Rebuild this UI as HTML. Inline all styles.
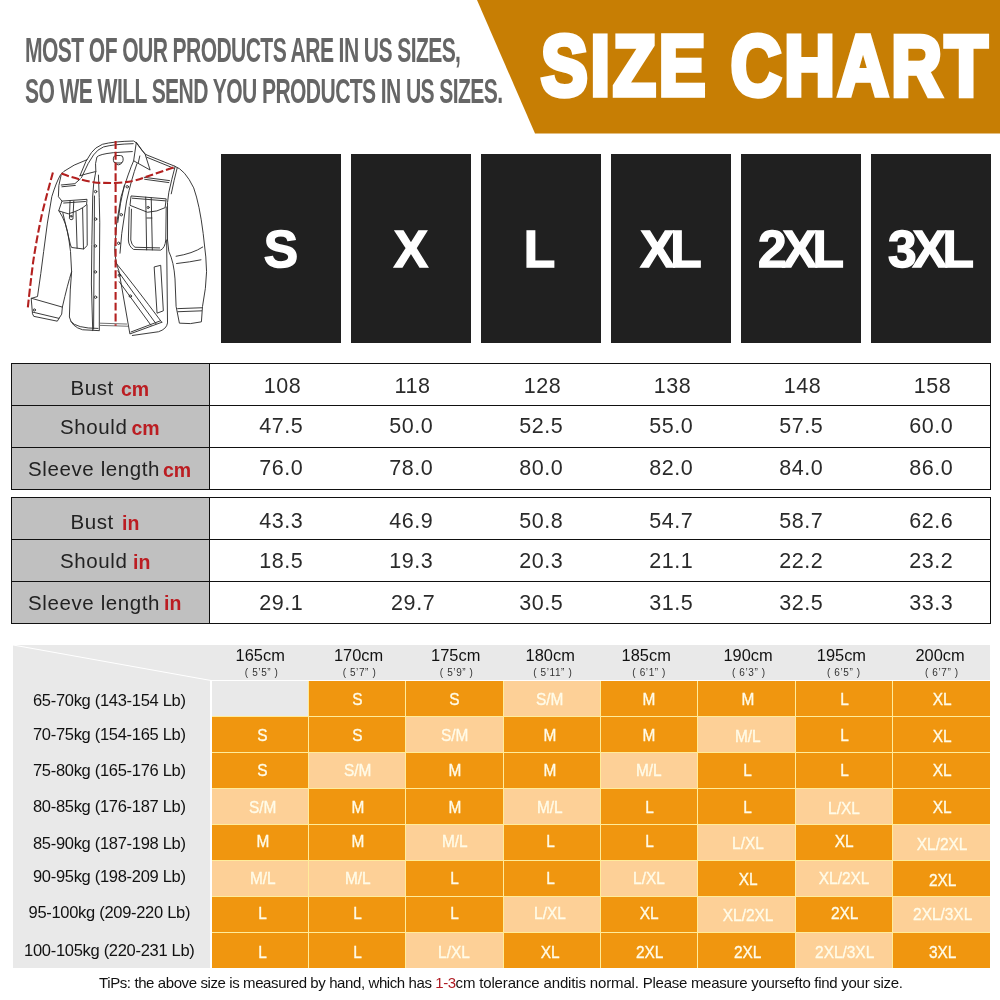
<!DOCTYPE html>
<html><head><meta charset="utf-8"><title>Size Chart</title>
<style>
*{margin:0;padding:0;box-sizing:border-box}
html,body{width:1000px;height:1000px;background:#fff;overflow:hidden}
body{position:relative;font-family:"Liberation Sans",sans-serif;color:#222}
.abs{position:absolute}
#banner{left:0;top:0}
#title{left:541px;top:24px;white-space:nowrap;color:#fff;font-weight:bold;font-size:84.5px;line-height:1;transform-origin:0 0;transform:scaleX(.829);-webkit-text-stroke:5.5px #fff;paint-order:stroke fill;letter-spacing:3.5px}
.note{left:24.5px;white-space:nowrap;color:#666;font-weight:bold;font-size:35px;line-height:1;transform-origin:0 0;letter-spacing:-1px;transform:scaleX(.603)}
.box{top:154px;width:120px;height:189px;background:#202020;color:#fff;font-weight:bold;font-size:51.5px;text-align:center;line-height:189px;white-space:nowrap;-webkit-text-stroke:1.4px #fff}
.box span{display:inline-block;position:relative;top:1px}
.box .ls{letter-spacing:-4.3px;margin-left:-4.3px}
.tbl{left:11px;width:980px;height:127px;border:1px solid #111}
.hl{position:absolute;left:0;width:978px;height:1px;background:#111}
.lab{position:absolute;left:0;top:0;width:198px;height:125px;background:#c0c0c0;border-right:1px solid #111}
.t{position:absolute;white-space:nowrap;font-size:20.5px;line-height:1;color:#222;letter-spacing:.6px}
.u{position:absolute;white-space:nowrap;font-size:19.5px;line-height:1;color:#bb1d22;font-weight:bold}
.n{position:absolute;white-space:nowrap;font-size:21.5px;line-height:1;color:#2a2a2a;transform:translateX(-50%);letter-spacing:.6px}
#chart{left:13px;top:645px;width:977px;height:323px;background:#e9e9e9;overflow:hidden}
.c{position:absolute;color:#fffbe8;font-size:16.5px;line-height:35px;text-align:center;white-space:nowrap;height:35px}
.c span{display:inline-block;transform:scaleX(.935);position:relative;top:1.2px;-webkit-text-stroke:.35px #fffbe8}
.d{background:#f0960f}
.l{background:#fdd097}
.h1{position:absolute;font-size:16.4px;line-height:1;color:#111;white-space:nowrap;transform:translateX(-50%)}
.h2{position:absolute;font-size:10px;line-height:1;color:#333;letter-spacing:.6px;white-space:nowrap;transform:translateX(-50%)}
.w{position:absolute;font-size:16.5px;line-height:1;color:#111;white-space:nowrap;transform:translateX(-50%);left:96.3px;letter-spacing:-.3px}
#tips{left:99px;top:975px;font-size:15px;line-height:1;color:#111;white-space:nowrap;letter-spacing:-.335px}
#tips b{font-weight:normal;color:#b01c24;letter-spacing:-.5px}
</style></head><body>
<svg id="banner" class="abs" width="1000" height="140" viewBox="0 0 1000 140"><polygon points="477,0 1000,0 1000,133.5 535,133.5" fill="#c77e04"/></svg>
<div id="title" class="abs">SIZE CHART</div>
<div class="abs note" id="n1" style="top:31.5px">MOST OF OUR PRODUCTS ARE IN US SIZES,</div>
<div class="abs note" id="n2" style="top:73px">SO WE WILL SEND YOU PRODUCTS IN US SIZES.</div>
<svg class="abs" style="left:10px;top:130px" width="220" height="220" viewBox="0 0 1000 1000" fill="none" stroke="#2b2b2b" stroke-width="4.2" stroke-linecap="round" stroke-linejoin="round">
<!-- collar -->
<path d="M318 208 L345 143 L370 103 Q385 80 420 65 Q470 52 562 50 L574 58"/>
<path d="M325 216 L355 153 L380 113 Q398 88 425 77 Q470 65 560 62"/>
<path d="M390 188 Q385 150 395 123 Q405 110 470 103 L556 98"/>
<path d="M318 208 L345 200 L385 190"/>
<path d="M574 58 L562 140 L637 182 L615 113 Z"/>
<path d="M574 58 L600 93 L618 112"/>
<path d="M583 150 L590 118"/>
<!-- hanger loop -->
<rect x="470" y="116" width="44" height="34" rx="12"/>
<path d="M478 150 Q492 168 508 150"/>
<!-- left shoulder + sleeve -->
<path d="M350 135 Q285 158 245 188 L230 203 Q210 238 190 303 L170 423 L153 552 L140 652 L125 757 L98 765"/>
<path d="M98 765 L238 805 L235 837 L215 869 L108 847 L103 837 Z"/>
<path d="M104 828 L222 856"/>
<circle cx="111" cy="818" r="5"/>
<path d="M232 206 Q218 250 220 303 L236 323"/>
<path d="M223 368 Q258 420 268 500 L275 552 L280 644 Q262 700 238 805"/>
<path d="M280 644 L274 727 L270 850 Q280 895 330 908 L405 912"/>
<path d="M276 870 Q300 902 400 902"/>
<!-- left yoke -->
<path d="M233 250 L295 244 L320 222"/>
<path d="M236 258 L297 252"/>
<!-- left pocket -->
<path d="M238 323 L350 315 L348 340 Q318 366 265 381 L223 368 Z"/>
<path d="M244 332 L343 325"/>
<path d="M273 323 L270 403 Q277 412 286 405 L290 323"/>
<circle cx="278" cy="392" r="4"/>
<path d="M240 376 L275 523 L280 534 L335 541 L351 525 L350 340"/>
<path d="M300 372 L305 537 M330 356 L334 540"/>
<!-- left placket -->
<path d="M390 188 Q378 240 376 300 L372 520 L370 700 L376 912"/>
<path d="M402 205 Q406 300 408 420 L406 700 L406 910"/>
<path d="M384 300 L380 905"/>
<circle cx="389" cy="280" r="5.5"/><circle cx="389" cy="405" r="5.5"/><circle cx="388" cy="527" r="5.5"/><circle cx="388" cy="645" r="5.5"/><circle cx="389" cy="760" r="5.5"/>
<!-- inner hem -->
<path d="M406 878 L530 882 M406 888 L535 892" stroke="#666"/>
<!-- right front edge -->
<path d="M562 140 Q540 188 505 303 L485 423 L476 540 Q478 600 495 640 L545 927 L690 874"/>
<path d="M577 153 Q552 223 530 323 L508 470 L500 560"/>
<path d="M520 250 Q500 330 490 420" />
<path d="M478 600 Q560 700 690 874"/>
<path d="M490 640 Q560 740 664 881"/>
<path d="M497 690 L641 888"/>
<path d="M550 918 L682 868"/>
<circle cx="533" cy="258" r="5.5"/><circle cx="506" cy="385" r="5.5"/><circle cx="494" cy="515" r="5.5"/><circle cx="497" cy="660" r="5.5"/><circle cx="547" cy="755" r="5.5"/>
<!-- right shoulder -->
<path d="M618 112 L750 165"/>
<path d="M622 124 L745 174"/>
<!-- right armhole + body side -->
<path d="M750 168 Q735 223 722 283 L716 330 L716 500"/>
<path d="M760 172 Q745 230 733 290"/>
<path d="M712 500 L716 877 Q712 905 675 917 L556 934"/>
<!-- right sleeve -->
<path d="M750 165 Q795 180 835 263 Q862 340 878 470 L890 577 Q898 640 888 720 L875 802 L870 872 Q820 885 770 878 L755 802 L750 677 Q745 600 722 552 L716 500"/>
<path d="M762 812 L872 808 M763 826 L871 822"/>
<path d="M755 574 Q830 562 876 532 M757 607 Q820 600 868 590"/>
<!-- right yoke -->
<path d="M610 215 L725 230 M612 224 L722 239"/>
<!-- right pocket -->
<path d="M552 300 L710 313 L705 353 Q670 372 625 374 L547 343 Z"/>
<path d="M556 310 L706 322"/>
<path d="M542 350 L538 500 Q540 530 562 543 L685 546 Q705 535 708 500 L710 350"/>
<path d="M552 360 L549 500 Q552 524 568 533 L680 536"/>
<path d="M617 305 L621 545 M642 308 L647 545"/>
<circle cx="628" cy="352" r="5"/>
<path d="M622 400 L645 400"/>
<!-- welt pocket -->
<path d="M657 622 L685 615 L697 822 L670 832 Z"/>
<!-- red dashed -->
<g stroke="#b3201f" stroke-width="9.5" stroke-linecap="butt" stroke-dasharray="36 13">
<path d="M480 50 L480 890"/>
<path d="M233 198 Q315 228 395 240 L480 241 Q560 236 605 218 L750 168"/>
<path d="M195 193 Q170 283 145 383 Q120 500 105 602 Q90 720 80 817"/>
</g>
</svg>

<div class="abs box" style="left:221px"><span>S</span></div>
<div class="abs box" style="left:351px"><span>X</span></div>
<div class="abs box" style="left:481px"><span style="left:-1.5px">L</span></div>
<div class="abs box" style="left:611px"><span class="ls">XL</span></div>
<div class="abs box" style="left:741px"><span class="ls">2XL</span></div>
<div class="abs box" style="left:871px"><span class="ls">3XL</span></div>
<div class="abs tbl" style="top:363px">
<div class="lab"></div>
<div class="hl" style="top:41px"></div><div class="hl" style="top:83px"></div>
<div class="t" style="left:58.5px;top:14.0px">Bust</div>
<div class="u" style="left:109.0px;top:16.0px">cm</div>
<div class="n" style="left:270.5px;top:11.8px">108</div>
<div class="n" style="left:400.5px;top:11.8px">118</div>
<div class="n" style="left:530.5px;top:11.8px">128</div>
<div class="n" style="left:660.5px;top:11.8px">138</div>
<div class="n" style="left:790.5px;top:11.8px">148</div>
<div class="n" style="left:920.5px;top:11.8px">158</div>
<div class="t" style="left:48.1px;top:53.1px">Should</div>
<div class="u" style="left:119.4px;top:55.1px">cm</div>
<div class="n" style="left:269.3px;top:52.3px">47.5</div>
<div class="n" style="left:399.3px;top:52.3px">50.0</div>
<div class="n" style="left:529.3px;top:52.3px">52.5</div>
<div class="n" style="left:659.3px;top:52.3px">55.0</div>
<div class="n" style="left:789.3px;top:52.3px">57.5</div>
<div class="n" style="left:919.3px;top:52.3px">60.0</div>
<div class="t" style="left:16.1px;top:94.6px">Sleeve length</div>
<div class="u" style="left:151.0px;top:96.6px">cm</div>
<div class="n" style="left:269.3px;top:94.3px">76.0</div>
<div class="n" style="left:399.3px;top:94.3px">78.0</div>
<div class="n" style="left:529.3px;top:94.3px">80.0</div>
<div class="n" style="left:659.3px;top:94.3px">82.0</div>
<div class="n" style="left:789.3px;top:94.3px">84.0</div>
<div class="n" style="left:919.3px;top:94.3px">86.0</div>
</div>
<div class="abs tbl" style="top:497px">
<div class="lab"></div>
<div class="hl" style="top:41px"></div><div class="hl" style="top:83px"></div>
<div class="t" style="left:58.5px;top:14.0px">Bust</div>
<div class="u" style="left:110.0px;top:15.5px">in</div>
<div class="n" style="left:269.3px;top:12.5px">43.3</div>
<div class="n" style="left:399.3px;top:12.5px">46.9</div>
<div class="n" style="left:529.3px;top:12.5px">50.8</div>
<div class="n" style="left:659.3px;top:12.5px">54.7</div>
<div class="n" style="left:789.3px;top:12.5px">58.7</div>
<div class="n" style="left:919.3px;top:12.5px">62.6</div>
<div class="t" style="left:48.1px;top:53.1px">Should</div>
<div class="u" style="left:121.0px;top:54.6px">in</div>
<div class="n" style="left:269.3px;top:53.0px">18.5</div>
<div class="n" style="left:399.3px;top:53.0px">19.3</div>
<div class="n" style="left:529.3px;top:53.0px">20.3</div>
<div class="n" style="left:659.3px;top:53.0px">21.1</div>
<div class="n" style="left:789.3px;top:53.0px">22.2</div>
<div class="n" style="left:919.3px;top:53.0px">23.2</div>
<div class="t" style="left:16.1px;top:94.6px">Sleeve length</div>
<div class="u" style="left:152.0px;top:96.1px">in</div>
<div class="n" style="left:269.3px;top:95.0px">29.1</div>
<div class="n" style="left:401.2px;top:95.0px">29.7</div>
<div class="n" style="left:529.3px;top:95.0px">30.5</div>
<div class="n" style="left:659.3px;top:95.0px">31.5</div>
<div class="n" style="left:789.3px;top:95.0px">32.5</div>
<div class="n" style="left:919.3px;top:95.0px">33.3</div>
</div>
<div id="chart" class="abs">
<svg class="abs" style="left:0;top:0" width="200" height="40" viewBox="0 0 200 40"><line x1="0" y1="0" x2="198" y2="35.5" stroke="#fff" stroke-width="1"/></svg>
<div class="h1" style="left:247.2px;top:2.4px">165cm</div>
<div class="h2" style="left:248.7px;top:22.5px">( 5’5” )</div>
<div class="h1" style="left:345.5px;top:2.4px">170cm</div>
<div class="h2" style="left:346.5px;top:22.5px">( 5’7” )</div>
<div class="h1" style="left:442.7px;top:2.4px">175cm</div>
<div class="h2" style="left:443.7px;top:22.5px">( 5’9” )</div>
<div class="h1" style="left:537.2px;top:2.4px">180cm</div>
<div class="h2" style="left:539.8px;top:22.5px">( 5’11” )</div>
<div class="h1" style="left:633.2px;top:2.4px">185cm</div>
<div class="h2" style="left:636.2px;top:22.5px">( 6’1” )</div>
<div class="h1" style="left:735.1px;top:2.4px">190cm</div>
<div class="h2" style="left:735.8px;top:22.5px">( 6’3” )</div>
<div class="h1" style="left:828.4px;top:2.4px">195cm</div>
<div class="h2" style="left:830.9px;top:22.5px">( 6’5” )</div>
<div class="h1" style="left:927.1px;top:2.4px">200cm</div>
<div class="h2" style="left:928.8px;top:22.5px">( 6’7” )</div>
<div class="abs" style="left:198.0px;top:35.4px;width:779.0px;height:288.0px;background:#ffec9a"></div>
<div class="w" style="top:47.2px">65-70kg (143-154 Lb)</div>
<div class="c" style="left:198.5px;top:35.9px;width:96.4px;background:#e9e9e9"></div>
<div class="c d" style="left:295.9px;top:35.9px;width:96.4px"><span style="left:0.7px;top:1.4px">S</span></div>
<div class="c d" style="left:393.2px;top:35.9px;width:96.4px"><span style="left:0.0px;top:1.4px">S</span></div>
<div class="c l" style="left:490.6px;top:35.9px;width:96.4px"><span style="left:-1.7px;top:1.4px">S/M</span></div>
<div class="c d" style="left:588.0px;top:35.9px;width:96.4px"><span style="left:0.0px;top:1.4px">M</span></div>
<div class="c d" style="left:685.4px;top:35.9px;width:96.4px"><span style="left:1.4px;top:1.4px">M</span></div>
<div class="c d" style="left:782.8px;top:35.9px;width:96.4px"><span style="left:0.2px;top:1.4px">L</span></div>
<div class="c d" style="left:880.1px;top:35.9px;width:96.9px"><span style="left:0.9px;top:1.4px">XL</span></div>
<div class="w" style="top:81.2px">70-75kg (154-165 Lb)</div>
<div class="c d" style="left:198.5px;top:71.9px;width:96.4px"><span style="left:2.7px;top:0.9px">S</span></div>
<div class="c d" style="left:295.9px;top:71.9px;width:96.4px"><span style="left:0.7px;top:0.9px">S</span></div>
<div class="c l" style="left:393.2px;top:71.9px;width:96.4px"><span style="left:0.0px;top:0.9px">S/M</span></div>
<div class="c d" style="left:490.6px;top:71.9px;width:96.4px"><span style="left:-1.7px;top:0.9px">M</span></div>
<div class="c d" style="left:588.0px;top:71.9px;width:96.4px"><span style="left:0.0px;top:0.9px">M</span></div>
<div class="c l" style="left:685.4px;top:71.9px;width:96.4px"><span style="left:1.4px;top:2.4px">M/L</span></div>
<div class="c d" style="left:782.8px;top:71.9px;width:96.4px"><span style="left:0.2px;top:0.9px">L</span></div>
<div class="c d" style="left:880.1px;top:71.9px;width:96.9px"><span style="left:0.9px;top:1.8px">XL</span></div>
<div class="w" style="top:116.8px">75-80kg (165-176 Lb)</div>
<div class="c d" style="left:198.5px;top:107.9px;width:96.4px"><span style="left:2.7px;top:-0.1px">S</span></div>
<div class="c l" style="left:295.9px;top:107.9px;width:96.4px"><span style="left:0.7px;top:-0.1px">S/M</span></div>
<div class="c d" style="left:393.2px;top:107.9px;width:96.4px"><span style="left:0.0px;top:-0.1px">M</span></div>
<div class="c d" style="left:490.6px;top:107.9px;width:96.4px"><span style="left:-1.7px;top:-0.1px">M</span></div>
<div class="c l" style="left:588.0px;top:107.9px;width:96.4px"><span style="left:0.0px;top:-0.1px">M/L</span></div>
<div class="c d" style="left:685.4px;top:107.9px;width:96.4px"><span style="left:1.4px;top:-0.1px">L</span></div>
<div class="c d" style="left:782.8px;top:107.9px;width:96.4px"><span style="left:0.2px;top:-0.1px">L</span></div>
<div class="c d" style="left:880.1px;top:107.9px;width:96.9px"><span style="left:0.9px;top:0.5px">XL</span></div>
<div class="w" style="top:152.6px">80-85kg (176-187 Lb)</div>
<div class="c l" style="left:198.5px;top:143.9px;width:96.4px"><span style="left:2.7px;top:0.8px">S/M</span></div>
<div class="c d" style="left:295.9px;top:143.9px;width:96.4px"><span style="left:0.7px;top:0.8px">M</span></div>
<div class="c d" style="left:393.2px;top:143.9px;width:96.4px"><span style="left:0.0px;top:0.8px">M</span></div>
<div class="c l" style="left:490.6px;top:143.9px;width:96.4px"><span style="left:-1.7px;top:0.8px">M/L</span></div>
<div class="c d" style="left:588.0px;top:143.9px;width:96.4px"><span style="left:0.0px;top:0.8px">L</span></div>
<div class="c d" style="left:685.4px;top:143.9px;width:96.4px"><span style="left:1.4px;top:0.8px">L</span></div>
<div class="c l" style="left:782.8px;top:143.9px;width:96.4px"><span style="left:0.2px;top:2.3px">L/XL</span></div>
<div class="c d" style="left:880.1px;top:143.9px;width:96.9px"><span style="left:0.9px;top:0.8px">XL</span></div>
<div class="w" style="top:189.6px">85-90kg (187-198 Lb)</div>
<div class="c d" style="left:198.5px;top:179.9px;width:96.4px"><span style="left:2.7px;top:-0.5px">M</span></div>
<div class="c d" style="left:295.9px;top:179.9px;width:96.4px"><span style="left:0.7px;top:-0.5px">M</span></div>
<div class="c l" style="left:393.2px;top:179.9px;width:96.4px"><span style="left:0.0px;top:-0.5px">M/L</span></div>
<div class="c d" style="left:490.6px;top:179.9px;width:96.4px"><span style="left:-1.7px;top:-0.5px">L</span></div>
<div class="c d" style="left:588.0px;top:179.9px;width:96.4px"><span style="left:0.0px;top:-0.5px">L</span></div>
<div class="c l" style="left:685.4px;top:179.9px;width:96.4px"><span style="left:1.4px;top:1.0px">L/XL</span></div>
<div class="c d" style="left:782.8px;top:179.9px;width:96.4px"><span style="left:0.2px;top:-0.5px">XL</span></div>
<div class="c l" style="left:880.1px;top:179.9px;width:96.9px"><span style="left:0.9px;top:1.9px">XL/2XL</span></div>
<div class="w" style="top:223.3px">90-95kg (198-209 Lb)</div>
<div class="c l" style="left:198.5px;top:215.9px;width:96.4px"><span style="left:2.7px;top:0.5px">M/L</span></div>
<div class="c l" style="left:295.9px;top:215.9px;width:96.4px"><span style="left:0.7px;top:0.5px">M/L</span></div>
<div class="c d" style="left:393.2px;top:215.9px;width:96.4px"><span style="left:0.0px;top:0.5px">L</span></div>
<div class="c d" style="left:490.6px;top:215.9px;width:96.4px"><span style="left:-1.7px;top:0.5px">L</span></div>
<div class="c l" style="left:588.0px;top:215.9px;width:96.4px"><span style="left:0.0px;top:0.5px">L/XL</span></div>
<div class="c d" style="left:685.4px;top:215.9px;width:96.4px"><span style="left:1.4px;top:1.4px">XL</span></div>
<div class="c l" style="left:782.8px;top:215.9px;width:96.4px"><span style="left:0.2px;top:0.5px">XL/2XL</span></div>
<div class="c d" style="left:880.1px;top:215.9px;width:96.9px"><span style="left:0.9px;top:2.0px">2XL</span></div>
<div class="w" style="top:258.9px">95-100kg (209-220 Lb)</div>
<div class="c d" style="left:198.5px;top:251.9px;width:96.4px"><span style="left:2.7px;top:-0.5px">L</span></div>
<div class="c d" style="left:295.9px;top:251.9px;width:96.4px"><span style="left:0.7px;top:-0.5px">L</span></div>
<div class="c d" style="left:393.2px;top:251.9px;width:96.4px"><span style="left:0.0px;top:-0.5px">L</span></div>
<div class="c l" style="left:490.6px;top:251.9px;width:96.4px"><span style="left:-1.7px;top:-0.5px">L/XL</span></div>
<div class="c d" style="left:588.0px;top:251.9px;width:96.4px"><span style="left:0.0px;top:-0.5px">XL</span></div>
<div class="c l" style="left:685.4px;top:251.9px;width:96.4px"><span style="left:1.4px;top:1.0px">XL/2XL</span></div>
<div class="c d" style="left:782.8px;top:251.9px;width:96.4px"><span style="left:0.2px;top:-0.5px">2XL</span></div>
<div class="c l" style="left:880.1px;top:251.9px;width:96.9px"><span style="left:0.9px;top:0.1px">2XL/3XL</span></div>
<div class="w" style="top:296.8px">100-105kg (220-231 Lb)</div>
<div class="c d" style="left:198.5px;top:287.9px;width:96.4px"><span style="left:2.7px;top:1.8px">L</span></div>
<div class="c d" style="left:295.9px;top:287.9px;width:96.4px"><span style="left:0.7px;top:1.8px">L</span></div>
<div class="c l" style="left:393.2px;top:287.9px;width:96.4px"><span style="left:0.0px;top:1.8px">L/XL</span></div>
<div class="c d" style="left:490.6px;top:287.9px;width:96.4px"><span style="left:-1.7px;top:1.8px">XL</span></div>
<div class="c d" style="left:588.0px;top:287.9px;width:96.4px"><span style="left:0.0px;top:1.8px">2XL</span></div>
<div class="c d" style="left:685.4px;top:287.9px;width:96.4px"><span style="left:1.4px;top:1.8px">2XL</span></div>
<div class="c l" style="left:782.8px;top:287.9px;width:96.4px"><span style="left:0.2px;top:1.8px">2XL/3XL</span></div>
<div class="c d" style="left:880.1px;top:287.9px;width:96.9px"><span style="left:0.9px;top:1.8px">3XL</span></div>
<div class="abs" style="left:197.2px;top:34.5px;width:779.8px;height:1.6px;background:#fff"></div>
<div class="abs" style="left:197.2px;top:34.5px;width:1.6px;height:288.9px;background:#fff"></div>
</div>
<div id="tips" class="abs"><span style="letter-spacing:-.4px">TiPs: the above size is measured by hand, which has </span><b>1-3</b><span style="letter-spacing:-.155px">cm tolerance anditis normal. </span><span style="letter-spacing:-.275px">Please measure yoursefto find your size.</span></div>
</body></html>
